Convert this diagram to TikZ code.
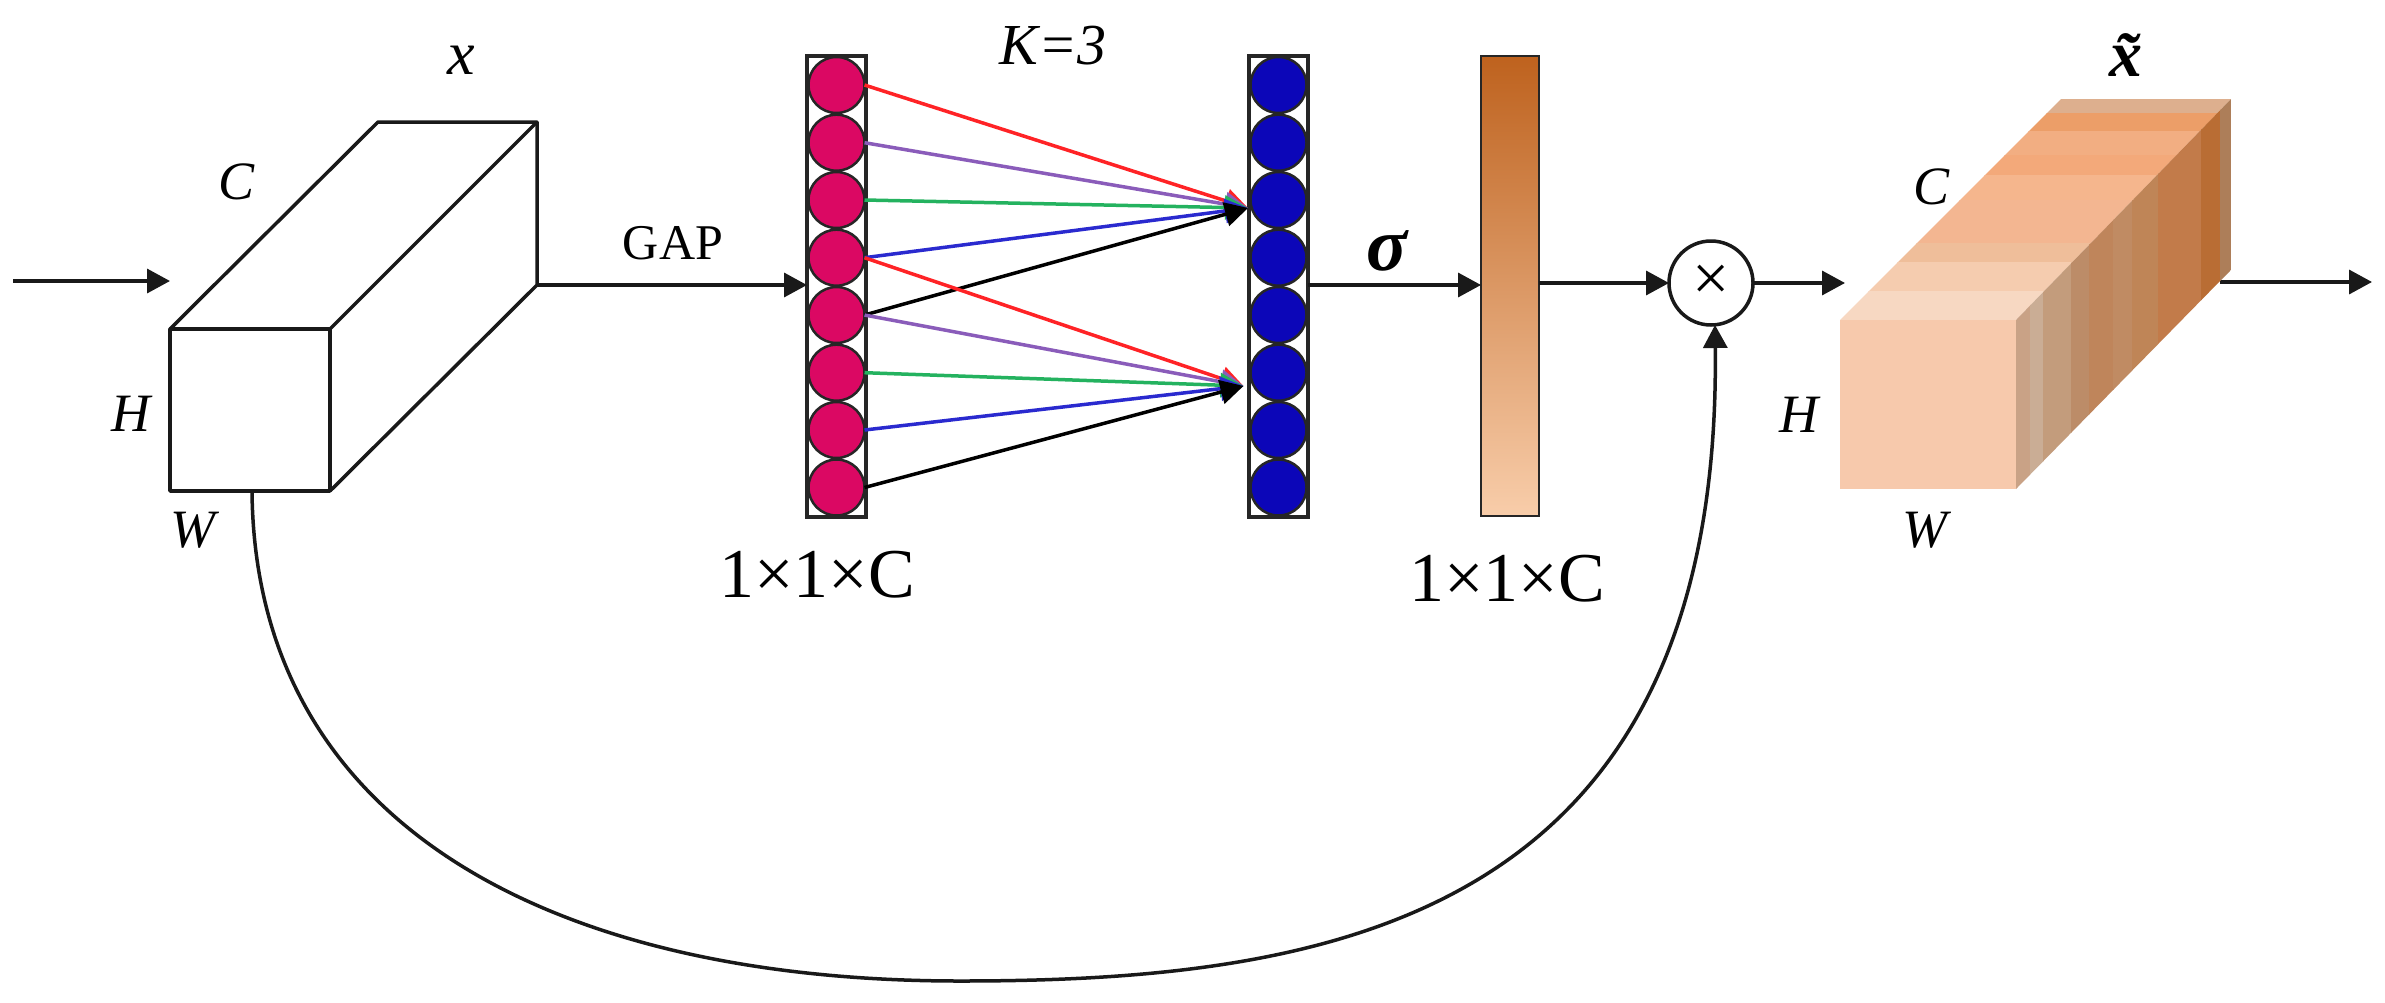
\documentclass[tikz,border=0pt]{standalone}
\usepackage{fontspec}
\setmainfont{Liberation Serif}
\usetikzlibrary{arrows.meta}
\definecolor{pinkc}{HTML}{DB0863}
\definecolor{bluec}{HTML}{0C06B8}
\definecolor{redl}{HTML}{FF2326}
\definecolor{purl}{HTML}{8A5CBA}
\definecolor{grnl}{HTML}{24B25F}
\definecolor{blul}{HTML}{2A2ACF}
\definecolor{bartop}{HTML}{BE621E}
\definecolor{barmid}{HTML}{E8AA7A}
\definecolor{barbot}{HTML}{F8CDAA}
\definecolor{frontc}{HTML}{F7C9AC}
\tikzset{
  line/.style={line width=3.5pt,black!90},
  arr/.style={line,-{Triangle[length=23pt,width=24pt]}},
  thin arr/.style={line width=3.5pt,-{Triangle[length=23pt,width=24pt]}},
  cellp/.style={circle,draw=black!85,fill=pinkc,line width=2.5pt,minimum size=56pt,inner sep=0pt,outer sep=0pt},
  cellb/.style={circle,draw=black!85,fill=bluec,line width=2.5pt,minimum size=56pt,inner sep=0pt,outer sep=0pt},
  col/.style={rectangle,draw=black!85,line width=3.5pt,minimum width=59pt,minimum height=461pt,inner sep=0pt,outer sep=0pt},
  lab/.style={font=\fontsize{54}{54}\selectfont\itshape,text=black,inner sep=0pt},
  rom/.style={font=\fontsize{50}{50}\selectfont,text=black,inner sep=0pt},
  big/.style={font=\fontsize{70}{70}\selectfont,text=black,inner sep=0pt},
}
\begin{document}
\begin{tikzpicture}[x=1pt,y=-1pt]
\useasboundingbox[fill=white] (0,0) rectangle (2385,1002);
% input box
\coordinate (fa) at (170,329); \coordinate (fb) at (330,329);
\coordinate (fc) at (330,491); \coordinate (fd) at (170,491);
\coordinate (ba) at (378,122); \coordinate (bb) at (537,122); \coordinate (bc) at (537,285);
\coordinate (in0) at (13,281); \coordinate (in1) at (170,281);
\coordinate (fw) at (252,491);
\draw[line,line join=round] (fa) -- (fb) -- (fc) -- (fd) -- cycle;
\draw[line,line join=round] (fa) -- (ba) -- (bb) -- (bc) -- (fc);
\draw[line] (fb) -- (bb);
\draw[arr] (in0) -- (in1);
% columns
\node[col] (r1) at (836.5,286.5) {};
\node[col] (r2) at (1278.5,286.5) {};
\foreach \i/\y in {1/85,2/142.7,3/200,4/257.7,5/315,6/372.7,7/430,8/487.5}{
  \node[cellp] (p\i) at (836.5,\y) {};
  \node[cellb] (q\i) at (1278.5,\y) {};
}
\coordinate (t1) at (1248,208);
\coordinate (t2) at (1243.5,386);
\draw[thin arr,redl] (p1.east) -- (t1);
\draw[thin arr,purl] (p2.east) -- (t1);
\draw[thin arr,grnl] (p3.east) -- (t1);
\draw[thin arr,blul] (p4.east) -- (t1);
\draw[thin arr,black] (p5.east) -- (t1);
\draw[thin arr,redl] (p4.east) -- (t2);
\draw[thin arr,purl] (p5.east) -- (t2);
\draw[thin arr,grnl] (p6.east) -- (t2);
\draw[thin arr,blul] (p7.east) -- (t2);
\draw[thin arr,black] (p8.east) -- (t2);
% bar
\node[rectangle,draw=black!85,line width=2.5pt,minimum width=58pt,minimum height=460pt,inner sep=0pt,outer sep=0pt,
  top color=bartop,middle color=barmid,bottom color=barbot] (bar) at (1510,286) {};
% multiply
\node[circle,draw=black!90,fill=white,line width=3.5pt,minimum size=84pt,inner sep=0pt,outer sep=0pt,font=\fontsize{66}{66}\selectfont] (mul) at (1711,283) {×};
% connectors
\draw[arr] (bc) -- (bc -| r1.west);
\draw[arr] (r2.east |- bc) -- (bar.west |- bc);
\draw[arr] (bar.east |- mul) -- (mul.west);
\coordinate (b3in) at (1845,283);
\draw[arr] (mul.east) -- (b3in);
\coordinate (o0) at (2220,282); \coordinate (o1) at (2372,282);
\draw[arr] (o0) -- (o1);
% output box
\coordinate (Fa) at (1840,320); \coordinate (Fb) at (2016,320); \coordinate (Fc) at (2016,489); \coordinate (Fd) at (1840,489);
\coordinate (Ba) at (2061,99); \coordinate (Bb) at (2231,99); \coordinate (Bc) at (2231,270); \coordinate (Bd) at (2220,281);
\begin{scope}
\clip (Fa) -- (Ba) -- (Bb) -- (Fb) -- cycle;
\foreach \a/\b/\c in {99/114/DDAF8E,113/132/EC9E68,131/156/F2AE82,155/176/F3A97A,175/201/F5B68D,200/244/F3B691,243/263/EFBE9A,262/292/F5CCAF,291/320/F7D8C2}{
  \definecolor{bandc}{HTML}{\c}
  \fill[bandc] (1800,\a) rectangle (2300,\b);
}
\end{scope}
\begin{scope}
\clip (Fb) -- (Bb) -- (Bc) -- (Bd) -- (Fc) -- cycle;
\foreach \a/\b/\c in {2016/2031/C9A286,2030/2044/CAAD95,2043/2072/C39C7C,2071/2090/BC8C68,2089/2114/BF855B,2113/2133/C08B63,2132/2159/BF8557,2158/2202/C27B4A,2201/2221/B96D34,2220/2231/AD7E59}{
  \definecolor{bandc}{HTML}{\c}
  \fill[bandc] (\a,50) rectangle (\b,550);
}
\end{scope}
\fill[frontc] (Fa) rectangle (Fc);
% bottom curve
\coordinate (mt) at (1715,325);
\coordinate (cb) at (960,981);
\draw[arr] (fw) .. controls (255,830) and (560,981) .. (cb)
  .. controls (1330,981) and (1722,920) .. (mt);
% labels
\node[lab,font=\fontsize{62}{62}\selectfont\itshape] (lx) at (461,60) {x};
\node[lab] (lc) at (237,182) {C};
\node[lab] (lh) at (131,414) {H};
\node[lab] (lw) at (193,530) {W};
\node[rom] (gap) at (673,243) {GAP};
\node[lab,font=\fontsize{58}{58}\selectfont\itshape] (k) at (1053,46) {K=3};
\node[big] (d1) at (817,575) {1×1×C};
\node[big] (d2) at (1507,579) {1×1×C};
\node[lab,font=\fontsize{76}{76}\selectfont\bfseries\itshape] (sig) at (1387,251) {σ};
\node[lab,font=\fontsize{66}{66}\selectfont\bfseries\itshape] (xt) at (2126,55) {\~{x}};
\node[lab] (lc2) at (1931,187) {C};
\node[lab] (lh2) at (1799,415) {H};
\node[lab] (lw2) at (1925,530) {W};
\end{tikzpicture}
\end{document}
